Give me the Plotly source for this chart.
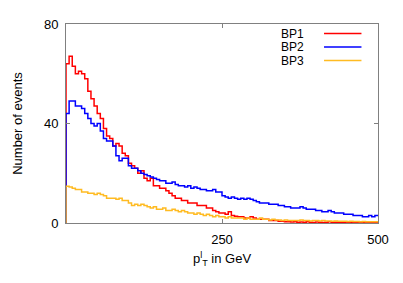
import numpy as np
import plotly.graph_objects as go

bin_width = 5
x_max = 500

bp1 = [64, 67, 63, 60, 61, 60, 58, 53, 50, 47,
       44, 42, 38, 35, 34, 31, 32, 31, 28, 27,
       24, 23, 22, 20, 21, 18, 17, 18, 15, 15,
       14, 14, 13, 12, 11, 10, 10, 9, 9, 8,
       8, 8, 7, 7, 7, 6, 6, 5, 4.5, 4,
       4, 3.5, 4.5, 3, 2.7, 2.5, 2.5, 2, 2, 2.5,
       2, 1.5, 1.5, 1.5, 1.5, 1, 1, 1, 0.7, 0.7,
       0.5, 0.5, 0.4, 0.5, 0.3, 0.4, 0.3, 0.5, 0.3, 0.2,
       0.4, 0.3, 0.2, 0.3, 0.5, 0.2, 0.3, 0.2, 0.3, 0.2,
       0.2, 0.3, 0.2, 0.1, 0.2, 0.3, 0.2, 0.2, 0.1, 0.2]

bp2 = [44, 49, 49, 47, 47, 46, 44, 42, 40, 39,
       40, 37, 34, 33, 33, 31, 27, 25, 26, 26,
       23, 22, 22, 21, 20, 19.5, 19, 18.5, 18, 17.5,
       17, 17, 16, 16, 16.5, 15.5, 15, 15, 14.5, 15,
       14, 14.5, 14, 13.5, 13.5, 13, 13, 13.5, 12.5, 12.5,
       11, 10.5, 10, 10.5, 10, 9.5, 10, 9.5, 10, 9.5,
       9, 8.5, 8, 8, 8, 7.5, 7.5, 7.5, 7, 7,
       6.5, 6.5, 6, 6, 6, 6.5, 6, 5.5, 5.5, 5.5,
       5, 5, 4.5, 4.5, 5, 4.5, 4, 4, 4, 3.5,
       3.5, 3.5, 3, 3, 3, 2.5, 2.5, 3, 2.5, 3]

bp3 = [14.8, 14.5, 14, 13.5, 13.5, 12.5, 12.5, 12, 12, 11.5,
       12, 11.5, 11, 10, 10, 10, 9.5, 10, 9, 9,
       8, 7, 7.5, 7, 7.5, 7, 6.5, 6, 6.5, 5.5,
       5.5, 6, 5, 5, 5.5, 5, 4.5, 5, 4.5, 4,
       4, 3.5, 4, 3.5, 3, 3.5, 3, 2.5, 3, 2.5,
       2.5, 2, 2.5, 2, 2, 2, 2, 1.5, 2, 1.5,
       1.5, 1.5, 2, 1.5, 1.5, 1.2, 1.5, 1.2, 1.2, 1,
       1.2, 1, 1, 1, 1, 1.2, 1, 1, 0.8, 1,
       1, 0.8, 1, 0.8, 0.8, 0.7, 0.8, 0.7, 0.7, 0.7,
       0.6, 0.7, 0.6, 0.6, 0.5, 0.6, 0.5, 0.5, 0.5, 0.5]

names = ["BP1", "BP2", "BP3"]
colors = ["#ff0000", "#0000ff", "#ffbb22"]
series = [bp1, bp2, bp3]

x_ticks = [250, 500]
y_ticks = [0, 40, 80]

font = "Liberation Sans, Arial, sans-serif"

fig = go.Figure()
for name, col, vals in zip(names, colors, series):
    edges = list(np.arange(0, x_max, bin_width))
    xs = [0] + edges + [x_max]
    ys = [0] + list(vals) + [vals[-1]]
    fig.add_trace(go.Scatter(x=xs, y=ys, mode="lines", line_shape="hv",
                             line=dict(color=col, width=1.5), name=name,
                             showlegend=False))

# gnuplot-style legend: text on the left, line sample on the right
legend_y = [0.952, 0.884, 0.816]
for name, col, ly in zip(names, colors, legend_y):
    fig.add_annotation(x=0.765, y=ly, xref="paper", yref="paper", text=name,
                       showarrow=False, xanchor="right", yanchor="middle",
                       height=12, valign="middle", borderpad=0,
                       font=dict(family=font, size=12, color="black"))
    fig.add_shape(type="line", xref="paper", yref="paper", x0=0.827, x1=0.947,
                  y0=ly, y1=ly, line=dict(color=col, width=1.5))

axis_common = dict(showline=True, linecolor="#808080", linewidth=1, mirror="allticks",
                   ticks="inside", ticklen=4, tickcolor="#808080", showgrid=False,
                   zeroline=False, tickfont=dict(family=font, size=13, color="black"))

fig.update_xaxes(range=[0, x_max], tickvals=x_ticks, ticklabelstandoff=4,
                 title=dict(text="p<sup>l</sup><sub>T</sub> in GeV", standoff=8,
                            font=dict(family=font, size=13, color="black")),
                 **axis_common)
fig.update_yaxes(range=[0, 80], tickvals=y_ticks, ticklabelstandoff=4,
                 title=dict(text="Number of events", standoff=18,
                            font=dict(family=font, size=13, color="black")),
                 **axis_common)

# the page body adds an 8px margin, so the figure is sized to fit inside it
fig.update_layout(width=395, height=275, margin=dict(l=52, r=25, t=9, b=60),
                  plot_bgcolor="white", paper_bgcolor="white")

fig.write_html("out.html")
